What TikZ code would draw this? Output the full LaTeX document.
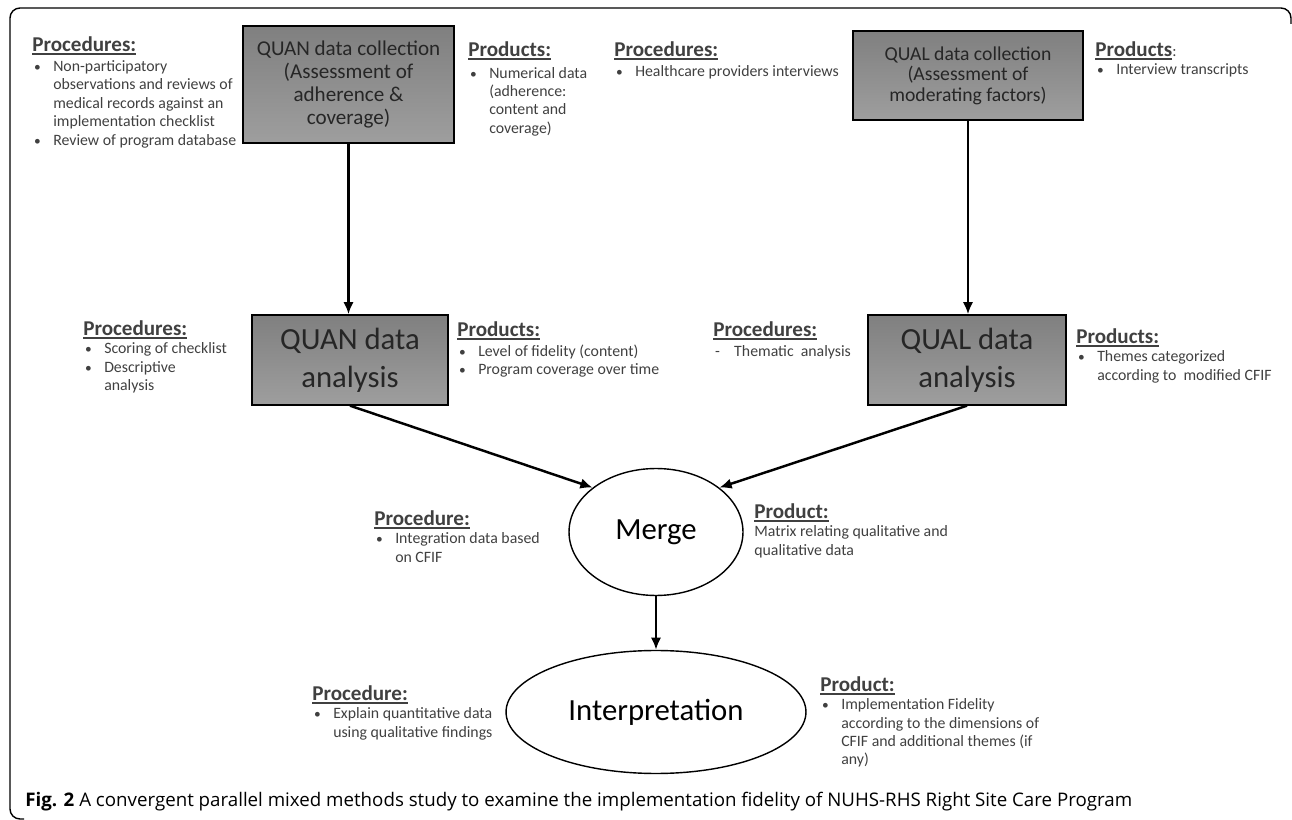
\documentclass[tikz,border=0pt]{standalone}
\usepackage{fontspec}
\setmainfont{Carlito}
\newfontfamily\capfont{Open Sans}
\usepackage{graphicx}
\usetikzlibrary{arrows.meta,shapes.geometric,positioning}

% underlined bold heading, bullet and hanging indent
\newcommand{\hd}[1]{\setbox0\hbox{\fontsize{12}{12}\selectfont\bfseries #1}\rlap{\rule[-2.4pt]{\wd0}{1.1pt}}\box0}
\newcommand{\bl}{\makebox[11.9pt][l]{\hspace{1pt}\scalebox{0.85}{\textbullet}}}
\newcommand{\dsh}{\makebox[11.9pt][l]{\hspace{1pt}-}}
\newcommand{\ind}{\hspace*{11.9pt}}

\begin{document}
\begin{tikzpicture}[x=0.02cm, y=-0.02cm,
    box/.style={draw, line width=0.8pt, rectangle, top color=black!50, bottom color=black!38, text=black!85, align=center, inner sep=0pt},
    oval/.style={draw, line width=0.8pt, ellipse, inner sep=0pt, font=\fontsize{17.5}{21}\selectfont},
    lbl/.style={anchor=north west, align=left, inner sep=0pt, text=black!75, font=\fontsize{9}{10.5}\selectfont},
    flow/.style={-{Latex[length=7pt,width=6pt]}, line width=1.4pt}]
    \useasboundingbox (0,0) rectangle (1292,820);

    % frame
    \draw[line width=0.8pt, rounded corners=0.2cm] (24,819) -- (10,819) -- (10,8) -- (1291,8) -- (1291,24);

    % main boxes
    \node[box, minimum width=4.22cm, minimum height=2.34cm, font=\fontsize{12}{13}\selectfont] (quancoll) at (348.5,84.5) {QUAN data collection\\(Assessment of\\adherence \&\\coverage)};
    \node[box, minimum width=4.6cm, minimum height=1.78cm, font=\fontsize{11.2}{11.6}\selectfont] (qualcoll) at (968,75.5) {QUAL data collection\\(Assessment of\\moderating factors)};
    \node[box, minimum width=3.92cm, minimum height=1.8cm, font=\fontsize{17.5}{21.5}\selectfont] (quanana) at (350,360) {QUAN data\\analysis};
    \node[box, minimum width=3.96cm, minimum height=1.8cm, font=\fontsize{17.5}{21.5}\selectfont] (qualana) at (967,360) {QUAL data\\analysis};
    \node[oval, minimum width=3.48cm, minimum height=2.54cm] (merge) at (656,532) {Merge};
    \node[oval, minimum width=6.0cm, minimum height=2.46cm] (interp) at (656,712) {Interpretation};

    % procedures and products
    \node[lbl] (proc1) at (32,36) {\hd{Procedures:}\\[1pt] \bl Non-participatory\\ \ind observations and reviews of\\ \ind medical records against an\\ \ind implementation checklist\\ \bl Review of program database};
    \node[lbl] (prod1) at (468,41) {\hd{Products:}\\[2pt] \bl Numerical data\\ \ind (adherence:\\ \ind content and\\ \ind coverage)};
    \node[lbl] (proc2) at (614,41) {\hd{Procedures:}\\[1pt] \bl Healthcare providers interviews};
    \node[lbl] (prod2) at (1095,41) {\hd{Products}:\\ \bl Interview transcripts};
    \node[lbl] (proc3) at (83,320) {\hd{Procedures:}\\ \bl Scoring of checklist\\ \bl Descriptive\\ \ind analysis};
    \node[lbl] (prod3) at (457,321) {\hd{Products:}\\[1pt] \bl Level of fidelity (content)\\ \bl Program coverage over time};
    \node[lbl] (proc4) at (713,321) {\hd{Procedures:}\\[1pt] \dsh Thematic~ analysis};
    \node[lbl] (prod4) at (1076,328) {\hd{Products:}\\ \bl Themes categorized\\ \ind according to~ modified CFIF};
    \node[lbl] (proc5) at (374,510) {\hd{Procedure:}\\ \bl Integration data based\\ \ind on CFIF};
    \node[lbl] (prod5) at (754,503) {\hd{Product:}\\ Matrix relating qualitative and\\ qualitative data};
    \node[lbl] (proc6) at (312,685) {\hd{Procedure:}\\ \bl Explain quantitative data\\ \ind using qualitative findings};
    \node[lbl] (prod6) at (820,676) {\hd{Product:}\\ \bl Implementation Fidelity\\ \ind according to the dimensions of\\ \ind CFIF and additional themes (if\\ \ind any)};

    % caption
    \node[anchor=west, inner sep=0pt] (caption) at (25,802) {\resizebox{22.14cm}{!}{\capfont\textbf{Fig. 2} A convergent parallel mixed methods study to examine the implementation fidelity of NUHS-RHS Right Site Care Program}};

    \draw[flow] (quancoll.south) -- (quancoll.south |- quanana.north);
    \draw[flow] (qualcoll.south) -- (qualcoll.south |- qualana.north);
    \draw[flow] (quanana.south) -- (merge.145);
    \draw[flow] (qualana.south) -- (merge.35);
    \draw[flow] (merge.south) -- (interp.north);
\end{tikzpicture}
\end{document}
